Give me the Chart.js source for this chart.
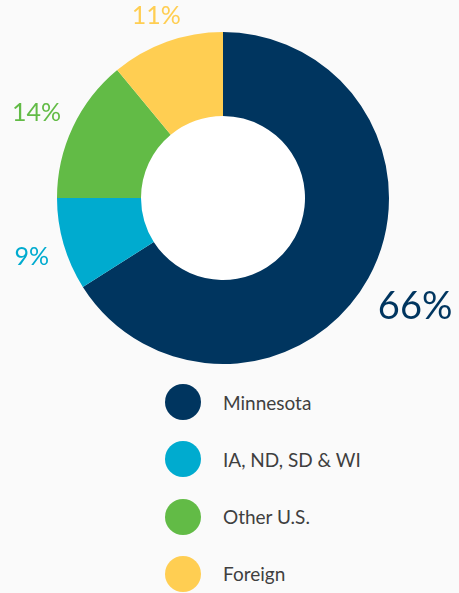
<!DOCTYPE html>
<html>
<head>
<meta charset="utf-8">
<script src="https://cdn.jsdelivr.net/npm/chart.js@4"></script>
<style>
  body { margin: 0; background: #fafafa; font-family: Lato, "Open Sans", sans-serif; }
  #wrap { position: relative; width: 459px; height: 593px; overflow: hidden; }
  #chartBox { position: absolute; left: 0; top: 0; width: 459px; height: 380px; }
  #legend { position: absolute; left: 165px; top: 384px; }
  .row { display: flex; align-items: center; height: 36px; margin-bottom: 21.3px; }
  .dot { width: 36px; height: 36px; border-radius: 50%; }
  .txt { margin-left: 22px; font-size: 19px; color: #3f3f3f; }
</style>
</head>
<body>
<div id="wrap">
  <div id="chartBox"><canvas id="donut"></canvas></div>
  <div id="legend"></div>
</div>
<script>
// Daten
const labels = ['Minnesota', 'IA, ND, SD & WI', 'Other U.S.', 'Foreign'];
const values = [66, 9, 14, 11];
const colors = ['#00355f', '#00abcf', '#62bb46', '#ffce52'];

// weisses Loch in der Mitte
const holePlugin = {
  id: 'hole',
  beforeDatasetsDraw(chart) {
    const arc = chart.getDatasetMeta(0).data[0];
    if (!arc) return;
    const ctx = chart.ctx;
    ctx.save();
    ctx.fillStyle = '#ffffff';
    ctx.beginPath();
    ctx.arc(arc.x, arc.y, arc.innerRadius, 0, Math.PI * 2);
    ctx.fill();
    ctx.restore();
  }
};

// Prozent-Labels aussen
const pctPlugin = {
  id: 'pct',
  afterDatasetsDraw(chart) {
    const ctx = chart.ctx;
    const meta = chart.getDatasetMeta(0);
    meta.data.forEach((arc, i) => {
      const mid = (arc.startAngle + arc.endAngle) / 2;
      const big = i === 0;
      const size = big ? 38 : 25;
      const text = values[i] + '%';
      ctx.save();
      ctx.font = `${size}px Lato, sans-serif`;
      const w = ctx.measureText(text).width;
      const h = size * 0.72;
      const cos = Math.cos(mid), sin = Math.sin(mid);
      const d = arc.outerRadius + 14 + (w / 2) * Math.abs(cos) + (h / 2) * Math.abs(sin);
      ctx.fillStyle = colors[i];
      ctx.textAlign = 'center';
      ctx.textBaseline = 'middle';
      ctx.fillText(text, arc.x + d * cos, arc.y + d * sin + 3);
      ctx.restore();
    });
  }
};

new Chart(document.getElementById('donut'), {
  type: 'doughnut',
  data: {
    labels,
    datasets: [{
      data: values,
      backgroundColor: colors,
      borderWidth: 0,
      hoverOffset: 0
    }]
  },
  options: {
    responsive: true,
    maintainAspectRatio: false,
    animation: false,
    cutout: '49.4%',
    layout: { padding: { left: 57, right: 70, top: 32, bottom: 16 } },
    plugins: {
      legend: { display: false },
      tooltip: { enabled: false }
    }
  },
  plugins: [holePlugin, pctPlugin]
});

// Legende
const legendEl = document.getElementById('legend');
labels.forEach((lab, i) => {
  const row = document.createElement('div');
  row.className = 'row';
  row.innerHTML = `<div class="dot" style="background:${colors[i]}"></div><div class="txt">${lab}</div>`;
  legendEl.appendChild(row);
});
</script>
</body>
</html>
